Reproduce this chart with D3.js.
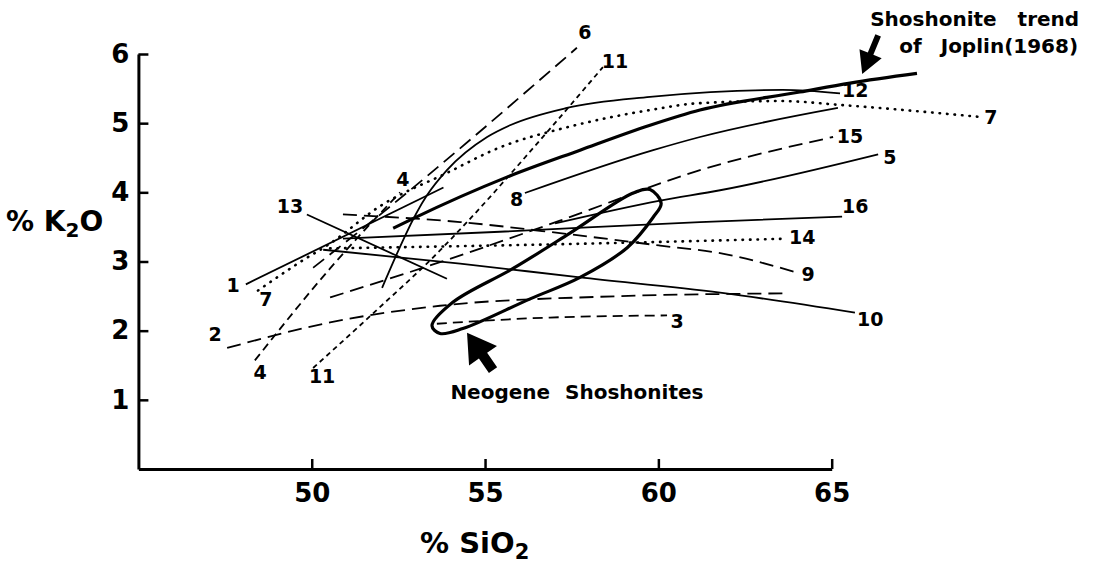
<!DOCTYPE html>
<html>
<head>
<meta charset="utf-8">
<script src="https://cdn.jsdelivr.net/npm/d3@7"></script>
<style>
  body { margin: 0; background: #fff; }
  svg { display: block; font-family: "DejaVu Sans", "Liberation Sans", Arial, sans-serif; font-weight: bold; }
</style>
</head>
<body>
<svg id="chart"></svg>
<script>
// K2O vs SiO2 trends of shoshonite suites
const xTicks = [50, 55, 60, 65];
const yTicks = [1, 2, 3, 4, 5, 6];

const trend1 = [[48.1, 2.67], [53.8, 4.07]];
const trend2 = [[47.56, 1.75], [50.53, 2.12], [53.7, 2.36], [58.32, 2.49], [63.74, 2.54]];
const trend3 = [[53.61, 2.10], [56.87, 2.19], [60.25, 2.22]];
const trend4 = [[48.36, 1.57], [50.53, 2.90], [52.55, 4.0]];
const trend5 = [[57.02, 3.55], [60.05, 3.88], [61.78, 4.03], [66.34, 4.55]];
const trend6 = [[50.04, 2.91], [51.88, 3.64], [57.65, 6.09]];
const trend7 = [[48.45, 2.58], [49.66, 2.99], [50.53, 3.26], [51.97, 3.80], [53.9, 4.28], [55.43, 4.65],
                [57.36, 4.94], [59.76, 5.19], [61.2, 5.29], [63.51, 5.32], [65.33, 5.26], [69.28, 5.09]];
const trend8 = [[56.15, 3.99], [59.85, 4.61], [61.2, 4.80], [65.18, 5.22]];
const trend9 = [[50.9, 3.68], [54.28, 3.57], [57.16, 3.41], [60.05, 3.23], [61.78, 3.12], [64.0, 2.84]];
const trend10 = [[50.33, 3.17], [54.28, 2.97], [57.74, 2.77], [61.78, 2.55], [65.67, 2.26]];
const trend11 = [[50.04, 1.46], [51.77, 2.25], [53.7, 3.16], [54.48, 3.57], [56.58, 4.75], [58.4, 5.81]];
const trend12 = [[52.03, 2.62], [53.33, 3.96], [53.9, 4.32], [55.06, 4.80], [55.72, 4.97], [57.36, 5.22],
                 [59.76, 5.38], [61.5, 5.45], [63.59, 5.48], [65.24, 5.43]];
const trend13 = [[49.86, 3.68], [53.9, 2.75]];
const trend14 = [[50.53, 3.19], [57.16, 3.25], [63.71, 3.33]];
const trend15 = [[50.53, 2.48], [53.7, 2.99], [57.16, 3.59], [61.2, 4.32], [65.04, 4.80]];
const trend16 = [[50.9, 3.33], [55.43, 3.43], [61.2, 3.57], [65.3, 3.65]];
const joplin = [[52.35, 3.48], [52.92, 3.62], [55.63, 4.22], [57.74, 4.61], [59.76, 4.97],
                [61.2, 5.19], [64.08, 5.45], [65.53, 5.58], [67.46, 5.72]];
const neogene = [[53.47, 2.07], [54.07, 2.41], [55.81, 2.90], [57.45, 3.41], [59.27, 3.99], [59.76, 4.04],
                 [60.08, 3.84], [59.85, 3.64], [59.1, 3.20], [57.74, 2.77], [56.3, 2.46], [54.36, 2.03], [53.7, 1.96]];

// trend number labels, anchored in data units
const labels1 = [[47.73, 2.64]];
const labels2 = [[47.21, 1.93]];
const labels3 = [[60.54, 2.12]];
const labels4 = [[48.51, 1.38], [52.63, 4.17]];
const labels5 = [[66.68, 4.49]];
const labels6 = [[57.88, 6.30]];
const labels7 = [[48.68, 2.43], [69.59, 5.07]];
const labels8 = [[55.91, 3.88]];
const labels9 = [[64.32, 2.80]];
const labels10 = [[66.11, 2.14]];
const labels11 = [[50.3, 1.32], [58.75, 5.88]];
const labels12 = [[65.68, 5.46]];
const labels13 = [[49.37, 3.78]];
const labels14 = [[64.15, 3.33]];
const labels15 = [[65.53, 4.80]];
const labels16 = [[65.68, 3.78]];

const trends = [
  { id: '1', pts: trend1, labels: labels1, kind: 'solid' },
  { id: '2', pts: trend2, labels: labels2, kind: 'dashLong' },
  { id: '3', pts: trend3, labels: labels3, kind: 'dashMid' },
  { id: '4', pts: trend4, labels: labels4, kind: 'dashShort' },
  { id: '5', pts: trend5, labels: labels5, kind: 'solid' },
  { id: '6', pts: trend6, labels: labels6, kind: 'dashLong' },
  { id: '7', pts: trend7, labels: labels7, kind: 'dot' },
  { id: '8', pts: trend8, labels: labels8, kind: 'solid' },
  { id: '9', pts: trend9, labels: labels9, kind: 'dashLong' },
  { id: '10', pts: trend10, labels: labels10, kind: 'solid' },
  { id: '11', pts: trend11, labels: labels11, kind: 'dashTiny' },
  { id: '12', pts: trend12, labels: labels12, kind: 'solid' },
  { id: '13', pts: trend13, labels: labels13, kind: 'solid' },
  { id: '14', pts: trend14, labels: labels14, kind: 'dot' },
  { id: '15', pts: trend15, labels: labels15, kind: 'dashLong' },
  { id: '16', pts: trend16, labels: labels16, kind: 'solid' }
];

const dashes = { solid: null, dashLong: '14,7', dashMid: '10,6', dashShort: '8,5', dashTiny: '5,4', dot: '0.5,7' };

const W = 1104, H = 564;
const svg = d3.select('#chart').attr('width', W).attr('height', H);

const x = d3.scaleLinear().domain([45, 65]).range([138.4, 831.7]);
const y = d3.scaleLinear().domain([0, 6]).range([469, 54]);

// axes
const xAxis = d3.axisBottom(x).tickValues(xTicks).tickSize(-10).tickSizeOuter(0).tickPadding(15);
const yAxis = d3.axisLeft(y).tickValues(yTicks).tickFormat(d3.format('d'))
  .tickSize(-10).tickSizeOuter(0).tickPadding(9);

const gx = svg.append('g').attr('transform', `translate(0,${y(0)})`).call(xAxis);
const gy = svg.append('g').attr('transform', `translate(${x(45)},0)`).call(yAxis);

[gx, gy].forEach(g => {
  g.select('.domain').attr('stroke', '#000').attr('stroke-width', 3);
  g.selectAll('.tick line').attr('stroke', '#000').attr('stroke-width', 2.5);
  g.selectAll('.tick text').attr('fill', '#000').attr('font-size', 26)
    .attr('font-family', '"DejaVu Sans", sans-serif').attr('font-weight', 'bold');
});

// axis titles
svg.append('text')
  .attr('x', x(54.7)).attr('y', 545).attr('dominant-baseline', 'middle')
  .attr('text-anchor', 'middle').attr('font-size', 29)
  .call(t => {
    t.append('tspan').text('% SiO');
    t.append('tspan').attr('font-size', 21).attr('dy', 8).text('2');
  });

svg.append('text')
  .attr('x', 6).attr('y', y(3.55)).attr('dominant-baseline', 'middle')
  .attr('font-size', 28)
  .call(t => {
    t.append('tspan').text('% K');
    t.append('tspan').attr('font-size', 20).attr('dy', 8).text('2');
    t.append('tspan').attr('dy', -8).text('O');
  });

// trend lines
const line = d3.line().x(d => x(d[0])).y(d => y(d[1])).curve(d3.curveMonotoneX);

svg.append('g').selectAll('path')
  .data(trends)
  .join('path')
  .attr('d', d => line(d.pts))
  .attr('fill', 'none')
  .attr('stroke', '#000')
  .attr('stroke-width', d => d.kind === 'dot' ? 2.6 : 1.8)
  .attr('stroke-linecap', d => d.kind === 'dot' ? 'round' : 'butt')
  .attr('stroke-dasharray', d => dashes[d.kind]);

// Joplin (1968) shoshonite trend
svg.append('path')
  .attr('d', line(joplin))
  .attr('fill', 'none').attr('stroke', '#000').attr('stroke-width', 3.2);

// Neogene shoshonite field
svg.append('path')
  .attr('d', d3.line().x(d => x(d[0])).y(d => y(d[1])).curve(d3.curveCatmullRomClosed)(neogene))
  .attr('fill', 'none').attr('stroke', '#000').attr('stroke-width', 3.2);

// trend numbers
const labelData = trends.flatMap(t => t.labels.map(p => ({ id: t.id, p })));
svg.append('g').selectAll('text')
  .data(labelData)
  .join('text')
  .attr('x', d => x(d.p[0]))
  .attr('y', d => y(d.p[1]))
  .attr('text-anchor', 'middle')
  .attr('dominant-baseline', 'middle')
  .attr('font-size', 19)
  .text(d => d.id);

// annotations
function arrow(tip, tail, headLen, headW, shaftW) {
  const [tx, ty] = [x(tip[0]), y(tip[1])];
  const [sx, sy] = [x(tail[0]), y(tail[1])];
  const len = Math.hypot(sx - tx, sy - ty);
  const ux = (sx - tx) / len, uy = (sy - ty) / len;
  const px = -uy, py = ux;
  const bx = tx + ux * headLen, by = ty + uy * headLen;
  const pts = [
    [tx, ty],
    [bx + px * headW / 2, by + py * headW / 2],
    [bx + px * shaftW / 2, by + py * shaftW / 2],
    [sx + px * shaftW / 2, sy + py * shaftW / 2],
    [sx - px * shaftW / 2, sy - py * shaftW / 2],
    [bx - px * shaftW / 2, by - py * shaftW / 2],
    [bx - px * headW / 2, by - py * headW / 2]
  ];
  svg.append('path').attr('d', 'M' + pts.join('L') + 'Z').attr('fill', '#000');
}

arrow([54.48, 1.97], [55.23, 1.43], 28, 34, 10);
arrow([65.88, 5.71], [66.34, 6.27], 22, 24, 6);

svg.append('text')
  .attr('x', x(54.0)).attr('y', y(1.095)).attr('dominant-baseline', 'middle')
  .attr('font-size', 20).attr('word-spacing', 8)
  .text('Neogene Shoshonites');

svg.append('text')
  .attr('x', x(66.11)).attr('y', y(6.49)).attr('dominant-baseline', 'middle')
  .attr('font-size', 20).attr('word-spacing', 14)
  .text('Shoshonite trend');

svg.append('text')
  .attr('x', x(66.95)).attr('y', y(6.1)).attr('dominant-baseline', 'middle')
  .attr('font-size', 20).attr('word-spacing', 12)
  .text('of Joplin(1968)');
</script>
</body>
</html>
